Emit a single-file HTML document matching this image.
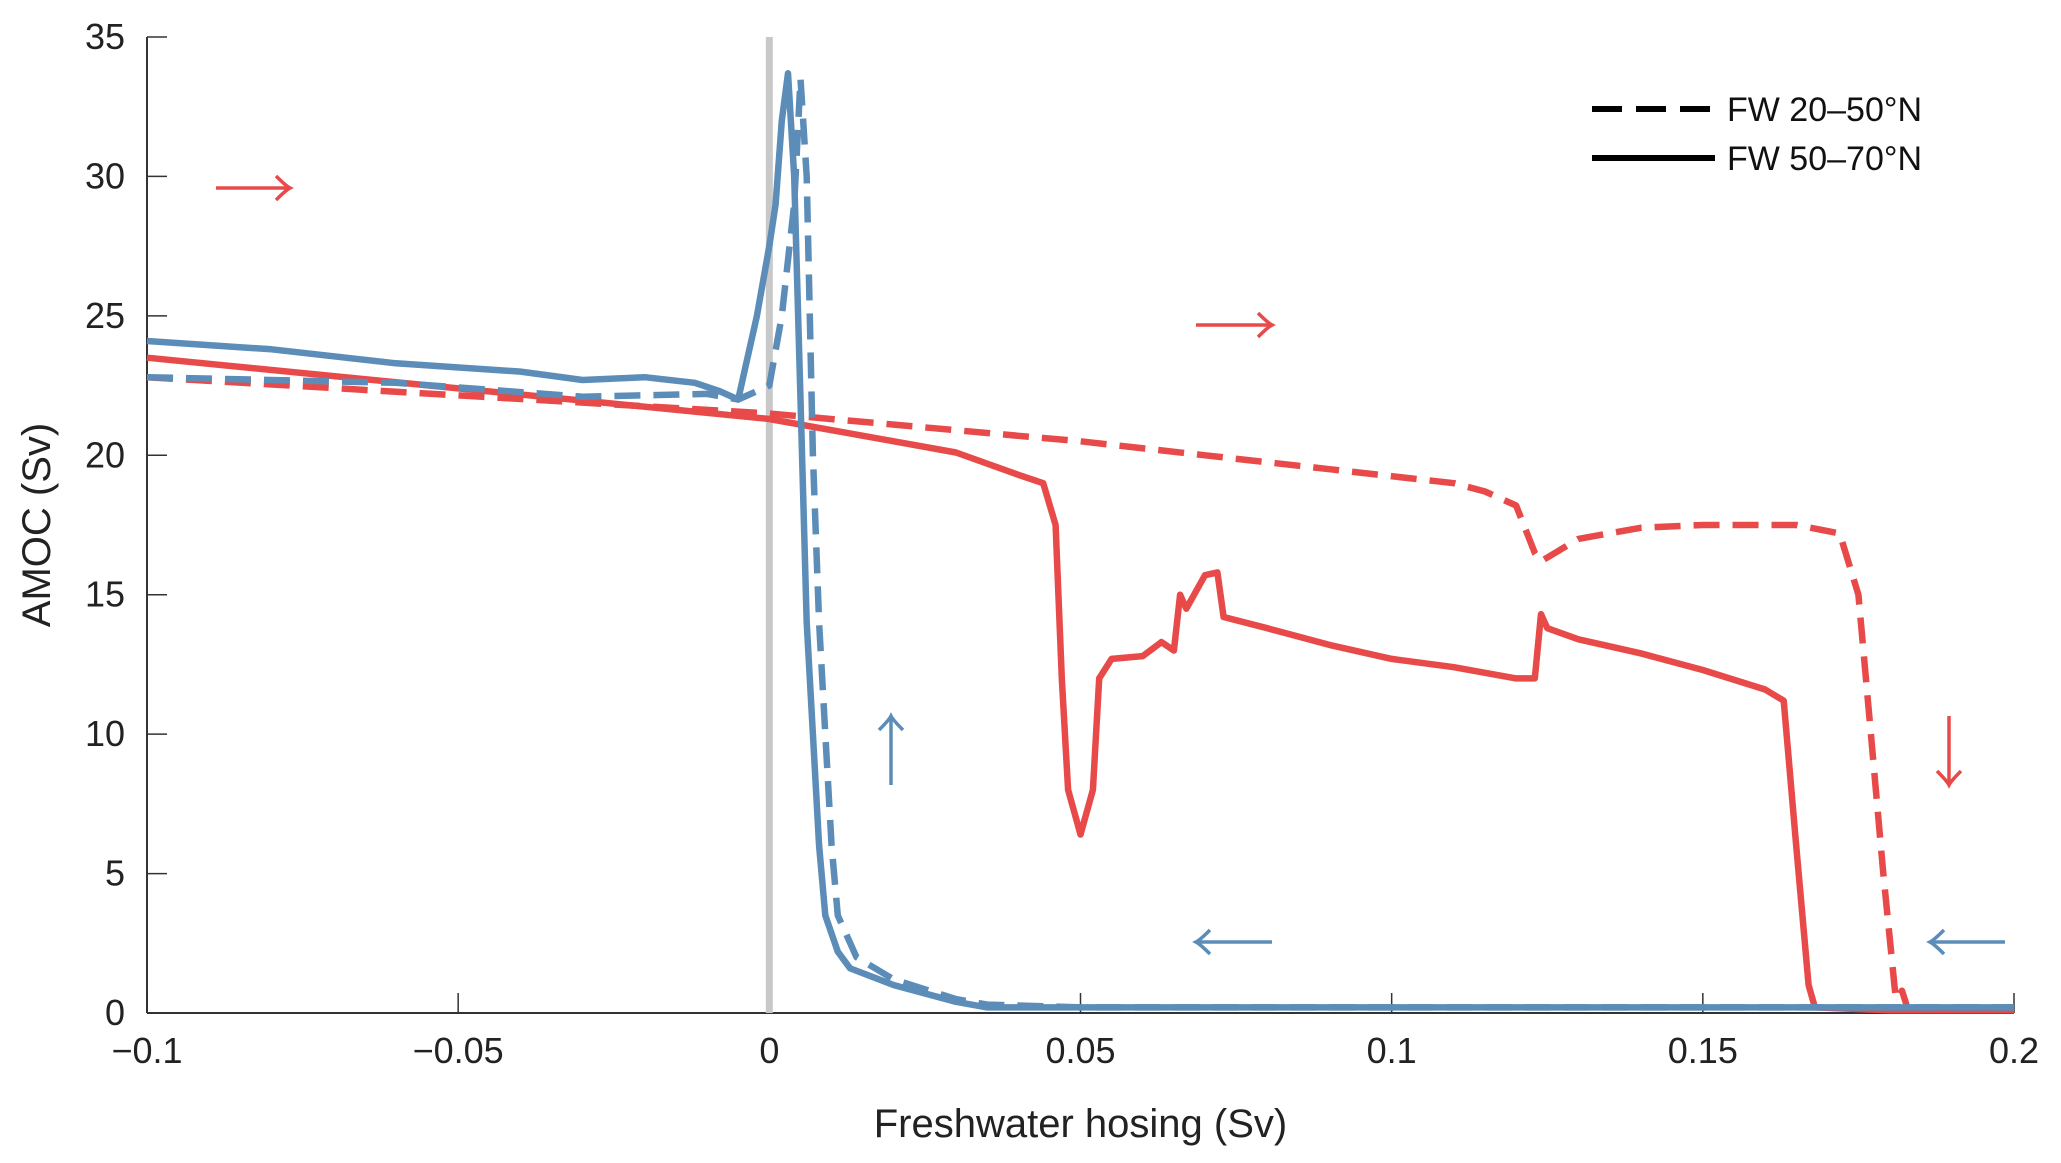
<!DOCTYPE html>
<html><head><meta charset="utf-8"><style>
html,body{margin:0;padding:0;background:#fff;}
svg{display:block;font-family:"Liberation Sans","DejaVu Sans",sans-serif;}
</style></head><body>
<svg id="chart" width="2061" height="1163" viewBox="0 0 2061 1163" xmlns="http://www.w3.org/2000/svg">
<g id="axes"></g>
<g id="plot"></g>
<g id="legend">
  <line x1="1592" y1="109" x2="1715" y2="109" stroke="#000" stroke-width="6" stroke-dasharray="30,14"/>
  <text x="1727" y="121" font-size="34" fill="#111">FW 20–50°N</text>
  <line x1="1592" y1="158" x2="1715" y2="158" stroke="#000" stroke-width="6"/>
  <text x="1727" y="170" font-size="34" fill="#111">FW 50–70°N</text>
</g>
</svg>
<script>
const xTicks=[-0.1,-0.05,0,0.05,0.1,0.15,0.2];
const xTickLabels=["−0.1","−0.05","0","0.05","0.1","0.15","0.2"];
const yTicks=[0,5,10,15,20,25,30,35];
const blueSolidX=[-0.1,-0.08,-0.06,-0.04,-0.03,-0.02,-0.012,-0.008,-0.005,-0.004,-0.002,0,0.001,0.002,0.003,0.004,0.005,0.006,0.008,0.009,0.011,0.013,0.02,0.03,0.035,0.05,0.1,0.15,0.2];
const blueSolidY=[24.1,23.8,23.3,23.0,22.7,22.8,22.6,22.3,22.0,23,25,27.5,29,32,33.7,30,22,14,6,3.5,2.2,1.6,1.0,0.4,0.2,0.2,0.2,0.2,0.2];
const blueDashX=[-0.1,-0.06,-0.03,-0.01,-0.005,0,0.002,0.004,0.005,0.006,0.0065,0.007,0.008,0.009,0.01,0.011,0.014,0.02,0.03,0.035,0.05,0.1,0.15,0.2];
const blueDashY=[22.8,22.6,22.1,22.2,22.0,22.5,25,29,33.5,30,25,20,14,10,6,3.5,2.0,1.2,0.5,0.3,0.2,0.2,0.2,0.2];
const redSolidX=[-0.1,0,0.02,0.03,0.04,0.044,0.046,0.047,0.048,0.05,0.052,0.053,0.055,0.06,0.063,0.065,0.066,0.067,0.07,0.072,0.073,0.08,0.09,0.1,0.11,0.12,0.123,0.124,0.125,0.13,0.14,0.15,0.16,0.163,0.165,0.167,0.168,0.18,0.2];
const redSolidY=[23.5,21.3,20.5,20.1,19.3,19.0,17.5,12,8,6.4,8,12,12.7,12.8,13.3,13.0,15,14.5,15.7,15.8,14.2,13.8,13.2,12.7,12.4,12.0,12.0,14.3,13.8,13.4,12.9,12.3,11.6,11.2,6,1,0.2,0.1,0.1];
const redDashX=[-0.1,0,0.02,0.04,0.05,0.07,0.09,0.11,0.115,0.12,0.123,0.124,0.13,0.14,0.15,0.165,0.172,0.175,0.177,0.179,0.181,0.182,0.183,0.2];
const redDashY=[22.8,21.5,21.1,20.7,20.5,20.0,19.5,19.0,18.7,18.2,16.5,16.2,17.0,17.4,17.5,17.5,17.2,15,10,5,0.5,0.8,0.1,0.1];
const NS="http://www.w3.org/2000/svg";
const X0=147,X1=2014,Y0=1013,Y1=37;
function sx(v){return X0+(v+0.1)/0.3*(X1-X0);}
function sy(v){return Y0-v/35*(Y0-Y1);}
function mk(tag,attrs,parent){const e=document.createElementNS(NS,tag);for(const k in attrs)e.setAttribute(k,attrs[k]);parent.appendChild(e);return e;}
const axes=document.getElementById('axes'),plot=document.getElementById('plot');
let zl=mk('line',{x1:sx(0),y1:Y1,x2:sx(0),y2:Y0,stroke:'#c8c8c8','stroke-width':7},plot);


let xa=mk('line',{x1:X0,y1:Y0,x2:X1,y2:Y0,stroke:'#333','stroke-width':2},axes);


let ya=mk('line',{x1:X0,y1:Y1,x2:X0,y2:Y0,stroke:'#333','stroke-width':2},axes);


xTicks.forEach((t,i)=>{
  let l=mk('line',{x1:sx(t),y1:Y0,x2:sx(t),y2:Y0-20,stroke:'#333','stroke-width':1.5},axes);
  
  
  let tx=mk('text',{x:sx(t),y:Y0+50,'text-anchor':'middle','font-size':36,fill:'#222'},axes);
  
  
  tx.textContent=xTickLabels[i];
});
yTicks.forEach(t=>{
  let l=mk('line',{x1:X0,y1:sy(t),x2:X0+20,y2:sy(t),stroke:'#333','stroke-width':1.5},axes);
  
  
  let tx=mk('text',{x:X0-22,y:sy(t)+12,'text-anchor':'end','font-size':36,fill:'#222'},axes);
  
  
  tx.textContent=String(t);
});
let xt=mk('text',{x:(X0+X1)/2,y:1137,'text-anchor':'middle','font-size':40,fill:'#222'},axes);


xt.textContent='Freshwater hosing (Sv)';
let yt=mk('text',{x:0,y:0,'text-anchor':'middle','font-size':40,fill:'#222',transform:'translate(50,525) rotate(-90)'},axes);


yt.textContent='AMOC (Sv)';
function series(xs,ys,color,dash,name){
  const d=xs.map((x,i)=>(i?'L':'M')+sx(x).toFixed(1)+','+sy(ys[i]).toFixed(1)).join(' ');
  const p=mk('path',{d:d,fill:'none',stroke:color,'stroke-width':6.5,'stroke-linejoin':'round','stroke-dasharray':dash?'26,13':'none'},plot);
  
  
}
series(redDashX,redDashY,'#e84a4a',true,'series-red-dashed');
series(redSolidX,redSolidY,'#e84a4a',false,'series-red-solid');
series(blueDashX,blueDashY,'#5b8db8',true,'series-blue-dashed');
series(blueSolidX,blueSolidY,'#5b8db8',false,'series-blue-solid');
function arrow(x1,y1,x2,y2,color,name){
  const g=mk('g',{stroke:color,'stroke-width':3.5,fill:'none'},plot);
  
  
  mk('line',{x1:x1,y1:y1,x2:x2,y2:y2},g);
  const dx=x2-x1,dy=y2-y1,L=Math.hypot(dx,dy),ux=dx/L,uy=dy/L,px=-uy,py=ux;
  mk('path',{d:`M${x2-14*ux+12*px},${y2-14*uy+12*py} Q${x2-4*ux+2*px},${y2-4*uy+2*py} ${x2},${y2} Q${x2-4*ux-2*px},${y2-4*uy-2*py} ${x2-14*ux-12*px},${y2-14*uy-12*py}`},g);
}
arrow(216,188,290,188,'#e84a4a','arrow-right-top-left');
arrow(1196,325,1272,325,'#e84a4a','arrow-right-middle');
arrow(1949,716,1949,785,'#e84a4a','arrow-down-right');
arrow(891,785,891,716,'#5b8db8','arrow-up-blue');
arrow(1272,942,1196,942,'#5b8db8','arrow-left-middle');
arrow(2005,942,1930,942,'#5b8db8','arrow-left-right');
</script>
</body></html>
